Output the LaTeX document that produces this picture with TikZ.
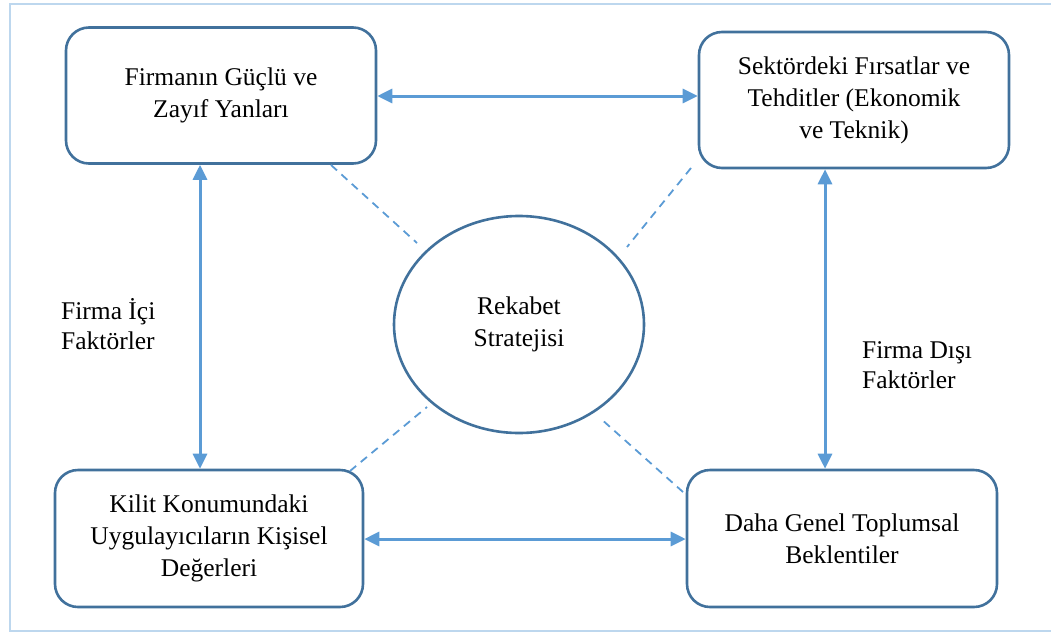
\documentclass[tikz,border=0pt]{standalone}
\usepackage{fontspec}
\setmainfont{Liberation Serif}
\usetikzlibrary{arrows.meta,shapes.geometric}
\definecolor{boxline}{HTML}{41719C}
\definecolor{arrowblue}{HTML}{5B9BD5}
\definecolor{frameblue}{HTML}{BDD7EE}
\begin{document}
\begin{tikzpicture}[x=1pt,y=-1pt,
  every node/.style={font=\fontsize{25.5}{32}\selectfont, align=center, inner sep=0pt},
  factorbox/.style={draw=boxline, line width=2.6pt, rounded corners=23pt,
    minimum width=310pt, minimum height=136pt},
  core/.style={draw=boxline, line width=2.6pt, ellipse,
    minimum width=250pt, minimum height=217pt},
  link/.style={draw=arrowblue, line width=3pt,
    {Triangle[length=15pt,width=14pt]}-{Triangle[length=15pt,width=14pt]}},
  tie/.style={draw=arrowblue, line width=1.8pt, dash pattern=on 8pt off 6pt},
  sidelabel/.style={align=left, font=\fontsize{25.5}{30}\selectfont}]
\useasboundingbox (0,0) rectangle (1051,632);
% outer frame (right side lies beyond the page edge)
\draw[frameblue, line width=2pt] (1052,4) -- (10,4) -- (10,631) -- (1052,631);

% the four factor boxes and the central ellipse
\node[factorbox] (TL) at (221,95.5) {Firmanın Güçlü ve\\Zayıf Yanları};
\node[factorbox] (TR) at (854,100) {Sektördeki Fırsatlar ve\\Tehditler (Ekonomik\\ve Teknik)};
\node[factorbox, minimum height=137pt, minimum width=308pt] (BL) at (209,538.5) {Kilit Konumundaki\\Uygulayıcıların Kişisel\\Değerleri};
\node[factorbox, minimum height=137pt] (BR) at (842,538.5) {Daha Genel Toplumsal\\Beklentiler};
\node[core] (C) at (519,324.5) {Rekabet\\Stratejisi};

% side labels
\node[sidelabel, anchor=north west] (inner) at (61,298) {Firma İçi\\Faktörler};
\node[sidelabel, anchor=north west] (outer) at (862,341) {Firma Dışı\\Faktörler};

% guide coordinates for the arrow lines
\coordinate (th) at (0,96);
\coordinate (bh) at (0,539);
\coordinate (lv) at (200,0);
\coordinate (rv) at (825,0);

% double-headed arrows between the boxes
\draw[link] (TL.east |- th) -- (TR.west |- th);
\draw[link] (BL.east |- bh) -- (BR.west |- bh);
\draw[link] (TL.south -| lv) -- (BL.north -| lv);
\draw[link] (TR.south -| rv) -- (BR.north -| rv);

% dashed ties towards the strategy ellipse
\coordinate (t1a) at (331,165); \coordinate (t1b) at (417,243);
\coordinate (t2a) at (691,168); \coordinate (t2b) at (627,247);
\coordinate (t3a) at (350,471); \coordinate (t3b) at (427,407);
\coordinate (t4a) at (683,492); \coordinate (t4b) at (600,418);
\draw[tie] (t1a) -- (t1b);
\draw[tie] (t2a) -- (t2b);
\draw[tie] (t3a) -- (t3b);
\draw[tie] (t4a) -- (t4b);
\end{tikzpicture}
\end{document}
